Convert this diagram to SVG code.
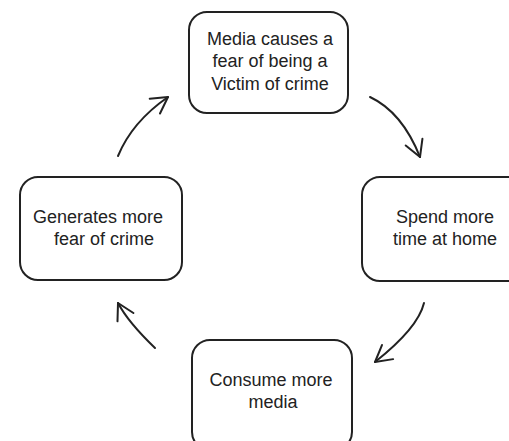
<svg xmlns="http://www.w3.org/2000/svg" width="509" height="441" viewBox="0 0 509 441">
<style>
.box{fill:#fff;stroke:#222;stroke-width:2}
.t{font-family:"Liberation Sans",Arial,sans-serif;font-size:18px;fill:#222;text-anchor:middle}
.c{fill:none;stroke:#222;stroke-width:2;stroke-linecap:round}
</style>
<defs>
<marker id="ah" markerUnits="userSpaceOnUse" markerWidth="30" markerHeight="30" viewBox="-20 -15 30 30" refX="0" refY="0" orient="auto">
<path d="M-16,-9 L0,0 L-16,9" fill="none" stroke="#222" stroke-width="2" stroke-linecap="round" stroke-linejoin="round"/>
</marker>
</defs>
<rect width="509" height="441" fill="#fff"/>
<g id="connectors">
<path class="c" d="M118,156 Q132,122 168,97" marker-end="url(#ah)"/>
<path class="c" d="M370,97 Q402,112 420,157" marker-end="url(#ah)"/>
<path class="c" d="M424,303 Q418,328 375,362" marker-end="url(#ah)"/>
<path class="c" d="M155,348 Q128,322 118,303" marker-end="url(#ah)"/>
</g>
<g id="node-media">
<rect class="box" x="189" y="12" width="159" height="101" rx="18"/>
<text class="t" x="270" y="45">Media causes a</text>
<text class="t" x="270" y="67">fear of being a</text>
<text class="t" x="270" y="90">Victim of crime</text>
</g>
<g id="node-home">
<rect class="box" x="362" y="177" width="166" height="104" rx="18"/>
<text class="t" x="445" y="223">Spend more</text>
<text class="t" x="445" y="245">time at home</text>
</g>
<g id="node-consume">
<rect class="box" x="192" y="340" width="160" height="110" rx="18"/>
<text class="t" x="271" y="386">Consume more</text>
<text class="t" x="273" y="408">media</text>
</g>
<g id="node-fear">
<rect class="box" x="20" y="177" width="162" height="103" rx="18"/>
<text class="t" x="98" y="223">Generates more</text>
<text class="t" x="104" y="245">fear of crime</text>
</g>
</svg>
